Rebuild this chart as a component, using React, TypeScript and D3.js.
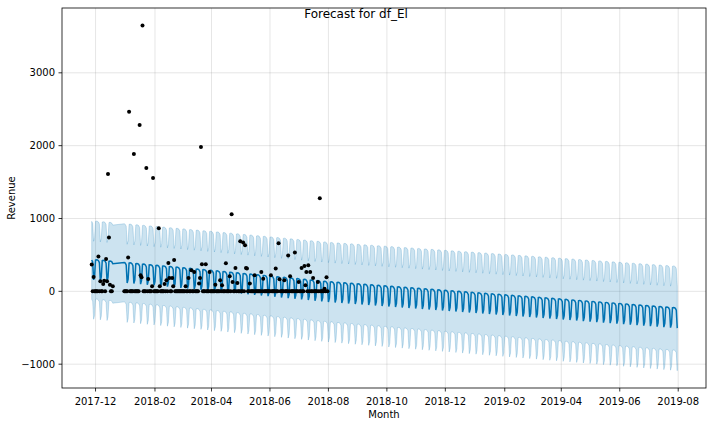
import * as d3 from "d3";

// day offsets are counted from 2017-12-01
const START = new Date(2017, 11, 1);

// observed revenue, [day offset, value] for non-zero days
const nonZeroObs: [number, number][] = [
  [-4, 370], [-2, 197], [3, 480], [5, 137], [8, 100], [9, 147], [11, 445],
  [12, 137], [13, 1610], [14, 740], [15, 92], [18, 69], [34, 463], [35, 2465],
  [40, 1885], [46, 2285], [47, 220], [48, 192], [49, 3650], [53, 1692],
  [55, 169], [59, 69], [60, 1555], [66, 865], [67, 69], [72, 100], [74, 151],
  [76, 390], [77, 183], [80, 183], [81, 69], [82, 431], [94, 69], [97, 183],
  [100, 290], [103, 266], [108, 106], [109, 183], [110, 1982], [111, 372],
  [115, 372], [119, 266], [125, 92], [130, 151], [132, 83], [136, 385],
  [140, 206], [142, 1058], [143, 128], [146, 320], [148, 114], [151, 688],
  [154, 670], [156, 633], [157, 320], [158, 312], [161, 106], [166, 220],
  [173, 266], [175, 174], [183, 220], [188, 312], [191, 660], [192, 165],
  [197, 151], [201, 491], [203, 206], [208, 532], [212, 128], [215, 320],
  [218, 348], [219, 83], [220, 266], [222, 358], [224, 266], [227, 183],
  [232, 128], [234, 1279], [239, 37], [241, 192],
];

// days with zero revenue
const zeroDays: number[] = [
  -3, -1, 0, 1, 2, 4, 6, 7, 10, 16, 17, 30, 31, 32, 33, 36, 37, 38, 39, 41,
  42, 43, 44, 45, 50, 51, 52, 54, 56, 57, 58, 61, 62, 63, 64, 65, 68, 69, 70,
  71, 73, 75, 78, 79, 83, 84, 85, 86, 87, 88, 89, 90, 91, 92, 93, 95, 96, 98,
  99, 101, 102, 104, 105, 106, 107, 112, 113, 114, 116, 117, 118, 120, 121,
  122, 123, 124, 126, 127, 128, 129, 131, 133, 134, 135, 137, 138, 139, 141,
  144, 145, 147, 149, 150, 152, 153, 155, 159, 160, 162, 163, 164, 165, 167,
  168, 169, 170, 171, 172, 174, 176, 177, 178, 179, 180, 181, 182, 184, 185,
  186, 187, 189, 190, 193, 194, 195, 196, 198, 199, 200, 202, 204, 205, 206,
  207, 209, 210, 211, 213, 214, 216, 217, 221, 223, 225, 226, 228, 229, 230,
  231, 233, 235, 236, 237, 238, 240, 242,
];

// forecast components
const trendKnots: [number, number][] = [[-4, 360], [120, 210], [242, 55], [607, -305]];
const weeklyEffect = [75, 80, 78, 70, 45, -200, -148];
const upperWidthKnots: [number, number][] = [[-4, 530], [242, 540], [607, 570]];
const lowerWidthKnots: [number, number][] = [[-4, 540], [242, 550], [607, 585]];
const lastHistoryDay = 242;
const lastForecastDay = 607;

const yTicks = [-1000, 0, 1000, 2000, 3000];
const xTickLabels = [
  "2017-12", "2018-02", "2018-04", "2018-06", "2018-08", "2018-10",
  "2018-12", "2019-02", "2019-04", "2019-06", "2019-08",
];

const dayToDate = (d: number) => d3.timeDay.offset(START, d);
const knotScale = (k: [number, number][]) =>
  d3.scaleLinear().domain(k.map((p) => p[0])).range(k.map((p) => p[1]));

const FONT = "DejaVu Sans, sans-serif";

export default function App() {
  const width = 712;
  const height = 426;
  const margin = { left: 62, right: 706, top: 8, bottom: 388 };

  const trend = knotScale(trendKnots);
  const upW = knotScale(upperWidthKnots);
  const loW = knotScale(lowerWidthKnots);

  const historyDays = [...nonZeroObs.map((o) => o[0]), ...zeroDays].sort((a, b) => a - b);
  const forecastDays = [...historyDays, ...d3.range(lastHistoryDay + 1, lastForecastDay + 1)];
  const forecast = forecastDays.map((d) => {
    const yhat = trend(d) + weeklyEffect[((d % 7) + 7) % 7];
    return { date: dayToDate(d), yhat, upper: yhat + upW(d), lower: yhat - loW(d) };
  });
  const obs = [...nonZeroObs, ...zeroDays.map((d) => [d, 0] as [number, number])];

  const first = forecastDays[0];
  const last = forecastDays[forecastDays.length - 1];
  const pad = (last - first) * 0.05;
  const x = d3
    .scaleTime()
    .domain([dayToDate(first - pad), dayToDate(last + pad)])
    .range([margin.left, margin.right]);
  const y = d3.scaleLinear().domain([-1327, 3890]).range([margin.bottom, margin.top]);

  const area = d3
    .area<(typeof forecast)[number]>()
    .x((d) => x(d.date))
    .y0((d) => y(d.lower))
    .y1((d) => y(d.upper));
  const line = d3
    .line<(typeof forecast)[number]>()
    .x((d) => x(d.date))
    .y((d) => y(d.yhat));

  const parseMonth = d3.timeParse("%Y-%m");
  const xTicks = xTickLabels.map((s) => ({ label: s, date: parseMonth(s) as Date }));
  const band = "rgba(0,114,178,0.2)";

  return (
    <div style={{ position: "fixed", left: 0, top: 0 }}>
      <svg width={width} height={height} style={{ display: "block", background: "#fff" }}>
        {/* grid */}
        {xTicks.map((t) => (
          <line key={t.label} x1={x(t.date)} x2={x(t.date)} y1={margin.top} y2={margin.bottom}
            stroke="rgb(128,128,128)" strokeOpacity={0.2} strokeWidth={1} />
        ))}
        {yTicks.map((t) => (
          <line key={t} x1={margin.left} x2={margin.right} y1={y(t)} y2={y(t)}
            stroke="rgb(128,128,128)" strokeOpacity={0.2} strokeWidth={1} />
        ))}

        {/* uncertainty band */}
        <path d={area(forecast) ?? ""} fill={band} stroke={band} strokeWidth={1} />
        {/* forecast line */}
        <path d={line(forecast) ?? ""} fill="none" stroke="#0072B2" strokeWidth={1.5} />

        {/* observations */}
        {obs.map(([d, v], i) => (
          <circle key={i} cx={x(dayToDate(d))} cy={y(v)} r={2} fill="#000" />
        ))}

        {/* frame */}
        <rect x={margin.left} y={margin.top} width={margin.right - margin.left}
          height={margin.bottom - margin.top} fill="none" stroke="#000" strokeWidth={0.8} />

        {/* y axis */}
        {yTicks.map((t) => (
          <g key={t}>
            <line x1={margin.left - 3.5} x2={margin.left} y1={y(t)} y2={y(t)} stroke="#000" strokeWidth={0.8} />
            <text x={margin.left - 7} y={y(t)} dy="0.35em" textAnchor="end" fontSize={10}
              fontFamily={FONT} fill="#000">
              {t < 0 ? `\u2212${Math.abs(t)}` : t}
            </text>
          </g>
        ))}

        {/* x axis */}
        {xTicks.map((t) => (
          <g key={t.label}>
            <line x1={x(t.date)} x2={x(t.date)} y1={margin.bottom} y2={margin.bottom + 3.5}
              stroke="#000" strokeWidth={0.8} />
            <text x={x(t.date)} y={margin.bottom + 16.5} textAnchor="middle" fontSize={10}
              fontFamily={FONT} fill="#000">
              {t.label}
            </text>
          </g>
        ))}

        {/* labels */}
        <text x={(margin.left + margin.right) / 2} y={418} textAnchor="middle" fontSize={10}
          fontFamily={FONT} fill="#000">Month</text>
        <text transform={`translate(15,${(margin.top + margin.bottom) / 2}) rotate(-90)`}
          textAnchor="middle" fontSize={10} fontFamily={FONT} fill="#000">Revenue</text>
        <text x={356} y={18} textAnchor="middle" fontSize={12} fontFamily={FONT} fill="#000">
          Forecast for df_El
        </text>
      </svg>
    </div>
  );
}
